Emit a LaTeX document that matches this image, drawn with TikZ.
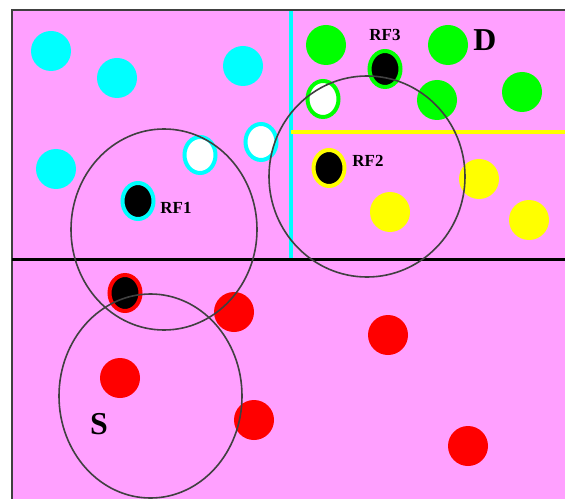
\documentclass[tikz,border=0pt]{standalone}
\usepackage{fontspec}
\setmainfont{Liberation Serif}
\usetikzlibrary{shapes.geometric}
\definecolor{bgpink}{RGB}{255,160,255}
\definecolor{cyanc}{RGB}{0,255,255}
\definecolor{greenc}{RGB}{0,255,0}
\definecolor{yellowc}{RGB}{255,255,0}
\definecolor{redc}{RGB}{255,0,0}
\definecolor{framec}{RGB}{64,64,64}
\begin{document}
\begin{tikzpicture}[x=1bp,y=-1bp,
  dot/.style={circle,fill=#1,draw=none,minimum size=40bp,inner sep=0pt},
  ringed/.style={ellipse,draw=#1,line width=4bp,minimum width=31bp,minimum height=36bp,inner sep=0pt},
  zone/.style={ellipse,draw=framec,line width=1.6bp,minimum width=186bp,minimum height=201bp,inner sep=0pt},
  rflabel/.style={font=\fontsize{17}{17}\selectfont\bfseries,inner sep=0pt},
  biglabel/.style={font=\fontsize{32}{32}\selectfont\bfseries,inner sep=0pt}]
\useasboundingbox (0,0) rectangle (565,499);
% background field
\fill[bgpink] (12,10) rectangle (565,499);
\draw[framec,line width=1.5bp] (12,499) -- (12,10) -- (565,10);
% region boundaries
\coordinate (cyTop) at (291,11);
\coordinate (cyBot) at (291,259);
\coordinate (yeL) at (291,132);
\coordinate (yeR) at (565,132);
\coordinate (blL) at (12,259);
\coordinate (blR) at (565,259);
\draw[cyanc,line width=4bp] (cyTop) -- (cyBot);
\draw[yellowc,line width=3.5bp] (yeL) -- (yeR);
\draw[black,line width=3bp] (blL) -- (blR);
% cyan group
\node[dot=cyanc] (c1) at (51,51) {};
\node[dot=cyanc] (c2) at (117,78) {};
\node[dot=cyanc] (c3) at (243,66) {};
\node[dot=cyanc] (c4) at (56,169) {};
\node[ringed=cyanc,fill=white] (cw1) at (200,155) {};
\node[ringed=cyanc,fill=white] (cw2) at (261,142) {};
\node[ringed=cyanc,fill=black] (rf1) at (138,201) {};
% green group
\node[dot=greenc] (g1) at (326,45) {};
\node[dot=greenc] (g2) at (448,45) {};
\node[dot=greenc] (g3) at (437,100) {};
\node[dot=greenc] (g4) at (522,92) {};
\node[ringed=greenc,fill=white] (gw1) at (323,99) {};
\node[ringed=greenc,fill=black] (rf3) at (385,69) {};
% yellow group
\node[dot=yellowc] (y1) at (479,179) {};
\node[dot=yellowc] (y2) at (390,212) {};
\node[dot=yellowc] (y3) at (529,220) {};
\node[ringed=yellowc,fill=black] (rf2) at (329,168) {};
% red group
\node[dot=redc] (r1) at (234,312) {};
\node[dot=redc] (r2) at (120,378) {};
\node[dot=redc] (r3) at (254,420) {};
\node[dot=redc] (r4) at (388,335) {};
\node[dot=redc] (r5) at (468,446) {};
\node[ringed=redc,fill=black] (rf4) at (125,293) {};
% coverage ranges
\node[zone] (z1) at (164,229.5) {};
\node[zone,minimum width=196bp] (z2) at (367,176.5) {};
\node[zone,minimum width=183bp,minimum height=204bp] (zs) at (150.5,396) {};
% labels
\node[rflabel] (l1) at (176,208) {RF1};
\node[rflabel] (l2) at (368,161) {RF2};
\node[rflabel] (l3) at (385,35) {RF3};
\node[biglabel] (ls) at (99,424) {S};
\node[biglabel] (ld) at (485,40) {D};
\end{tikzpicture}
\end{document}
